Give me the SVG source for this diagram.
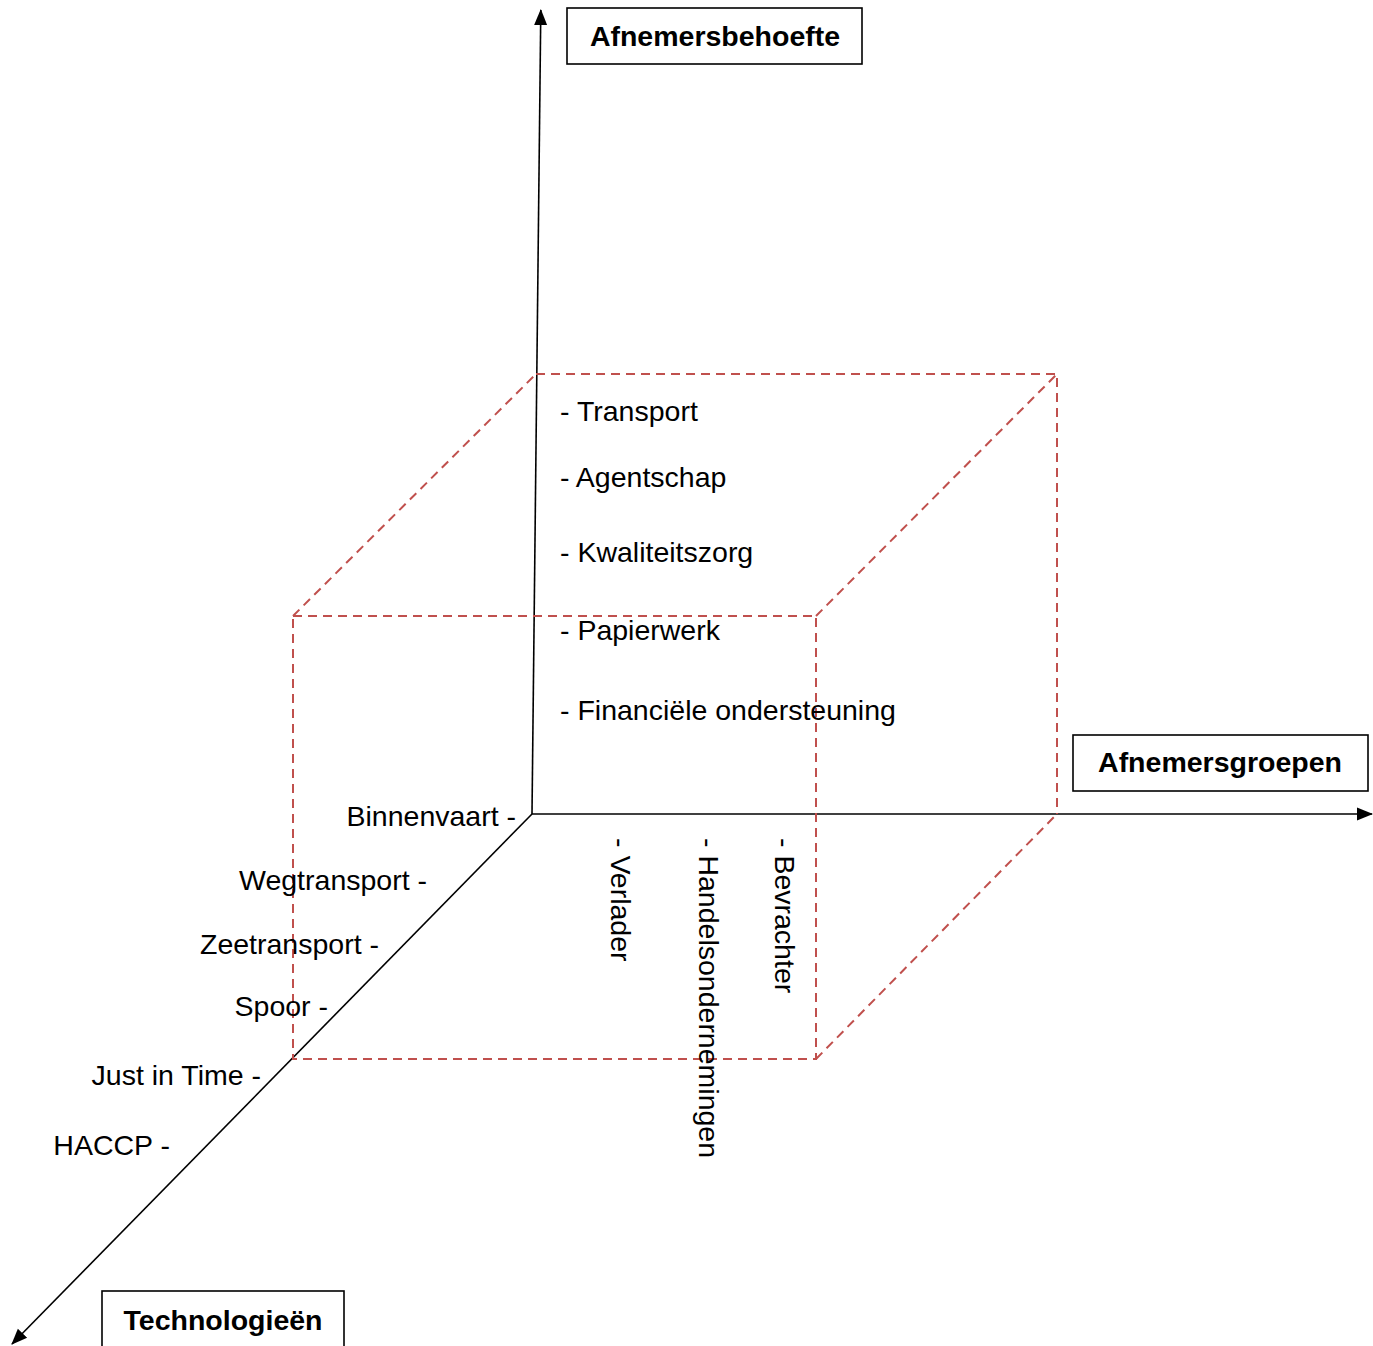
<svg xmlns="http://www.w3.org/2000/svg" width="1373" height="1346" viewBox="0 0 1373 1346">
<style>
text{font-family:"Liberation Sans",Arial,sans-serif;font-size:28.5px;fill:#000}
.b{font-weight:bold;text-anchor:middle}
.e{text-anchor:end}
.box{fill:#fff;stroke:#000;stroke-width:1.6}
.ax{stroke:#000;stroke-width:1.6;fill:none}
.cube{stroke:#c0504d;stroke-width:2;fill:none;stroke-dasharray:9 6}
</style>
<defs>
<marker id="ah" markerUnits="userSpaceOnUse" markerWidth="17" markerHeight="15" refX="15" refY="7.5" orient="auto">
<path d="M0,1 L16,7.5 L0,14 Z" fill="#000"/>
</marker>
</defs>
<g id="connectors">
<path class="ax" d="M532,814 L540.8,10" marker-end="url(#ah)"/>
<path class="ax" d="M532,814 L1372,814" marker-end="url(#ah)"/>
<path class="ax" d="M532,814 L12,1344" marker-end="url(#ah)"/>
</g>
<g id="cube">
<path class="cube" d="M293,616 L816,616 L816,1059 L293,1059 Z"/>
<path class="cube" d="M536,374 L1057,374 L1057,814"/>
<path class="cube" d="M293,616 L536,374"/>
<path class="cube" d="M816,616 L1057,374"/>
<path class="cube" d="M816,1059 L1057,814"/>
</g>
<g id="afnemersbehoefte">
<rect class="box" x="567" y="8" width="295" height="56"/>
<text class="b" x="715" y="46">Afnemersbehoefte</text>
</g>
<g id="afnemersgroepen">
<rect class="box" x="1073" y="735" width="295" height="56"/>
<text class="b" x="1220" y="772">Afnemersgroepen</text>
</g>
<g id="technologieen">
<rect class="box" x="102" y="1291" width="242" height="60"/>
<text class="b" x="223" y="1330">Technologieën</text>
</g>
<g id="behoefte-items">
<text x="560" y="421">- Transport</text>
<text x="560" y="487">- Agentschap</text>
<text x="560" y="562">- Kwaliteitszorg</text>
<text x="560" y="640">- Papierwerk</text>
<text x="560" y="720">- Financiële ondersteuning</text>
</g>
<g id="technologie-items">
<text class="e" x="516" y="826">Binnenvaart -</text>
<text class="e" x="427" y="890">Wegtransport -</text>
<text class="e" x="379" y="954">Zeetransport -</text>
<text class="e" x="328" y="1016">Spoor -</text>
<text class="e" x="261" y="1085">Just in Time -</text>
<text class="e" x="170" y="1155">HACCP -</text>
</g>
<g id="groepen-items">
<text transform="translate(611,838) rotate(90)">- Verlader</text>
<text transform="translate(699,838) rotate(90)">- Handelsondernemingen</text>
<text transform="translate(775,838) rotate(90)">- Bevrachter</text>
</g>
</svg>
